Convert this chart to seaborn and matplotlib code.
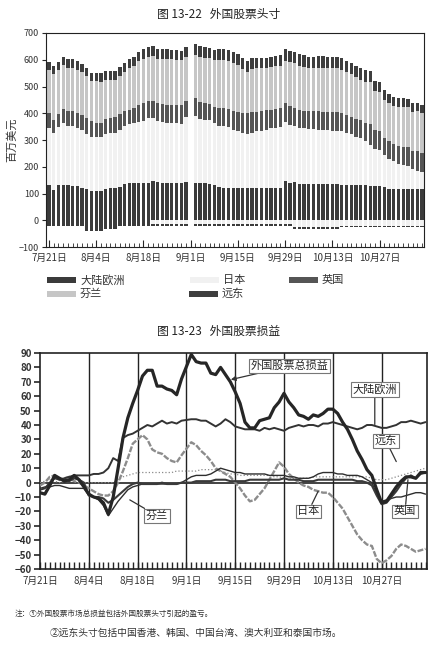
import numpy as np
import pandas as pd
import matplotlib
matplotlib.use("Agg")
import matplotlib.pyplot as plt
from matplotlib.patches import Rectangle
import seaborn as sns

# ---- data (business days 7/21 - 11/7, 9/1 holiday) ----
tick_labels = ["7月21日", "8月4日", "8月18日", "9月1日", "9月15日", "9月29日", "10月13日", "10月27日"]

# Fig 13-22: stacked positions (million USD), bottom -> top
eur = [130, 112, 130, 130, 130, 128, 128, 122, 115, 110,
       110, 110, 115, 120, 120, 125, 135, 138, 140, 140,
       140, 140, 145, 143, 140, 140, 140, 140, 140, 142,
       None, 140, 140, 138, 135, 133, 124, 122, 122, 122,
       120, 120, 120, 120, 120, 120, 120, 120, 120, 120,
       145, 138, 142, 137, 135, 135, 135, 137, 136, 134,
       134, 134, 133, 133, 133, 132, 130, 130, 128, 128,
       127, 125, 117, 118, 118, 118, 118, 118, 118, 118]
jpn = [215, 214, 217, 233, 221, 223, 217, 216, 207, 203,
       200, 200, 207, 205, 206, 213, 216, 222, 223, 229,
       232, 242, 237, 228, 228, 225, 225, 222, 220, 243,
       None, 248, 240, 237, 240, 230, 227, 229, 225, 216,
       215, 206, 202, 208, 212, 215, 218, 225, 225, 227,
       224, 218, 209, 208, 210, 205, 205, 201, 202, 204,
       201, 201, 199, 193, 189, 181, 176, 165, 155, 140,
       135, 120, 111, 102, 94, 89, 85, 72, 67, 62]
uk = [55, 50, 52, 52, 58, 56, 55, 57, 60, 57,
      53, 55, 58, 57, 59, 61, 56, 53, 56, 60,
      66, 62, 64, 67, 66, 67, 67, 70, 72, 59,
      None, 68, 63, 65, 58, 62, 69, 67, 68, 72,
      68, 74, 78, 75, 73, 73, 74, 69, 71, 71,
      68, 71, 69, 69, 63, 68, 68, 70, 68, 68,
      70, 70, 68, 67, 64, 67, 68, 70, 75, 70,
      70, 62, 70, 65, 66, 68, 69, 69, 74, 72]
fin = [160, 169, 161, 165, 162, 164, 163, 158, 157, 149,
       156, 152, 146, 144, 141, 141, 147, 158, 159, 165,
       165, 168, 167, 166, 170, 172, 169, 168, 166, 166,
       None, 162, 169, 168, 172, 173, 180, 182, 181, 178,
       177, 165, 155, 162, 163, 160, 156, 158, 159, 160,
       159, 163, 167, 164, 166, 162, 162, 163, 165, 164,
       165, 165, 163, 160, 160, 156, 152, 153, 158, 144,
       148, 143, 139, 143, 147, 150, 151, 146, 149, 148]
fe = [30, 30, 30, 32, 32, 32, 32, 32, 32, 33,
      33, 33, 32, 32, 32, 32, 32, 32, 34, 34,
      36, 37, 37, 36, 36, 36, 36, 36, 36, 36,
      None, 40, 40, 40, 40, 40, 40, 40, 40, 40,
      40, 40, 40, 40, 40, 40, 40, 40, 40, 40,
      44, 43, 43, 42, 42, 42, 42, 42, 42, 42,
      42, 42, 42, 42, 42, 42, 42, 42, 42, 38,
      38, 38, 35, 34, 32, 32, 32, 32, 32, 32]
# short positions stacked below zero
short_near = [0] * 22 + [-15] * 8 + [None] + [-15] * 21 + [-25] * 10 + [-20] * 18
short_far = [-22] * 8 + [-42] * 4 + [-33] * 3 + [-22] * 7 + [-7] * 8 + [None] + [-7] * 49

# Fig 13-23: profit / loss lines
pl_total = [-7, -8, -2, 5, 3, 1, 2, 5, 2, -3,
            -8, -10, -11, -14, -22, -10, 10, 31, 45, 55,
            64, 74, 78, 78, 67, 67, 65, 64, 61, 72,
            None, 89, 84, 83, 83, 76, 75, 80, 75, 70,
            63, 55, 42, 38, 38, 43, 44, 45, 52, 56,
            62, 56, 52, 47, 46, 44, 47, 46, 48, 51,
            51, 48, 42, 37, 30, 22, 16, 9, 5, -5,
            -14, -13, -8, -3, 1, 4, 4, 3, 7, 7]
pl_eur = [-5, -4, 0, 3, 2, 3, 4, 5, 5, 5,
          5, 6, 6, 7, 10, 17, 15, 31, 33, 34,
          36, 38, 40, 39, 41, 43, 41, 42, 41, 43,
          None, 44, 44, 43, 43, 41, 39, 41, 44, 42,
          39, 38, 37, 37, 37, 36, 38, 37, 38, 37,
          36, 38, 39, 40, 39, 40, 40, 39, 41, 41,
          42, 41, 40, 39, 38, 37, 38, 40, 40, 39,
          38, 38, 39, 40, 42, 42, 43, 42, 41, 42]
pl_jpn = [-2, 0, 4, 5, 2, 3, 4, 1, 0, -2,
          -4, -6, -8, -9, -9, -6, 0, 8, 17, 27,
          30, 33, 30, 23, 21, 20, 17, 15, 14, 19,
          None, 28, 26, 22, 19, 15, 10, 8, 6, 4,
          0, -4, -9, -13, -12, -8, -4, 2, 8, 14,
          11, 6, 3, 0, -2, -3, -5, -6, -7, -7,
          -10, -14, -18, -24, -30, -36, -40, -43, -44, -53,
          -56, -54, -51, -46, -43, -44, -46, -48, -47, -46]
pl_fe = [0, 1, 2, 1, 0, 1, 2, 1, 0, 0,
         0, 0, 0, 0, 0, 0, 2, 4, 5, 6,
         7, 7, 7, 7, 7, 7, 7, 7, 8, 8,
         None, 8, 8, 9, 9, 9, 9, 8, 7, 6,
         6, 5, 5, 5, 5, 5, 5, 5, 4, 4,
         3, 3, 3, 3, 3, 3, 4, 4, 4, 4,
         4, 4, 4, 4, 4, 4, 4, 4, 3, 2,
         2, 2, 3, 4, 5, 6, 7, 8, 9, 10]
pl_fin = [-4, -3, -3, -2, -2, -3, -4, -4, -4, -4,
          -9, -10, -12, -16, -23, -18, -13, -9, -5, -3,
          -2, -1, -1, -1, -1, -1, -1, -1, -1, 0,
          None, 4, 5, 5, 5, 6, 8, 10, 9, 8,
          7, 7, 6, 6, 6, 6, 6, 5, 5, 5,
          5, 4, 4, 3, 3, 3, 4, 6, 7, 7,
          7, 6, 6, 5, 5, 5, 4, 2, 0, -8,
          -13, -12, -11, -10, -10, -9, -8, -7, -7, -8]
pl_uk = [-7, -8, -2, 4, 3, 2, 1, 3, 2, 0,
         -9, -10, -10, -11, -14, -12, -9, -6, -3, -1,
         0, -1, -1, -1, -1, 0, -1, -1, -1, 0,
         None, 0, 1, 1, 1, 1, 2, 2, 2, 1,
         1, 1, 1, 2, 2, 2, 2, 2, 2, 2,
         3, 2, 2, 2, 1, 1, 1, 2, 2, 2,
         2, 2, 2, 2, 2, 1, 1, 0, -2, -9,
         -15, -14, -10, -6, -1, 3, 5, 3, 6, 7]

sns.set_theme(style="white")
plt.rcParams["font.family"] = ["Noto Sans CJK SC", "DejaVu Sans"]
plt.rcParams["axes.unicode_minus"] = True

W, H = 438, 649
fig = plt.figure(figsize=(W / 100, H / 100), dpi=100)
fig.patch.set_facecolor("white")


def fx(px):
    return px / W


def fy(py):
    return 1 - py / H


# ---------------- top chart ----------------
fig.text(fx(219), fy(14), "图 13-22   外国股票头寸", ha="center", va="center", fontsize=8.5, color="#222")
ax1 = fig.add_axes([fx(46), fy(247), (424 - 46) / W, (247 - 33) / H])

x = np.arange(len(eur))
layers = [("大陆欧洲", eur, "#3b3b3b"), ("日本", jpn, "#f1f1f1"), ("英国", uk, "#555555"),
          ("芬兰", fin, "#c6c6c6"), ("远东", fe, "#3e3e3e")]
base = np.zeros(len(x))
for name, vals, col in layers:
    v = np.array(vals, dtype=float)
    ax1.bar(x, v, bottom=base, width=0.7, color=col, linewidth=0)
    base = base + np.nan_to_num(v)

neg = np.zeros(len(x))
for vals, col in [(short_near, "#f1f1f1"), (short_far, "#3b3b3b")]:
    v = np.array(vals, dtype=float)
    ax1.bar(x, v, bottom=neg, width=0.7, color=col, linewidth=0)
    neg = neg + np.nan_to_num(v)

ax1.set_xlim(-0.64, 79.4)
ax1.set_ylim(-100, 700)
ax1.set_yticks(range(-100, 701, 100))
ax1.set_xticks(np.arange(0, 80, 10))
ax1.set_xticks(np.arange(0, 80), minor=True)
ax1.set_xticklabels(tick_labels, fontsize=7, color="#333")
ax1.tick_params(axis="y", labelsize=6.5, labelcolor="#333", left=True, direction="out", length=3, width=0.8, pad=2)
ax1.tick_params(axis="x", which="major", bottom=True, direction="in", length=5, width=0.8, pad=4)
ax1.tick_params(axis="x", which="minor", bottom=True, direction="in", length=3, width=0.6)
ax1.set_ylabel("百万美元", fontsize=8, color="#333", labelpad=1)
for s in ax1.spines.values():
    s.set_color("#222")
    s.set_linewidth(0.8)

# legend drawn by hand to match the book layout
legend_items = [("大陆欧洲", "#3b3b3b", 47, 280), ("日本", "#f1f1f1", 190, 280), ("英国", "#555555", 289, 280),
                ("芬兰", "#c6c6c6", 47, 294), ("远东", "#3e3e3e", 189, 294)]
for name, col, px, py in legend_items:
    fig.add_artist(Rectangle((fx(px), fy(py + 3)), 29 / W, 6 / H, transform=fig.transFigure,
                             facecolor=col, edgecolor="none"))
    fig.text(fx(px + 33), fy(py), name, ha="left", va="center", fontsize=8, color="#333")

# ---------------- bottom chart ----------------
fig.text(fx(219), fy(331), "图 13-23   外国股票损益", ha="center", va="center", fontsize=8.5, color="#222")
ax2 = fig.add_axes([fx(40), fy(569), (427 - 40) / W, (569 - 353) / H])

df = pd.DataFrame({"day": x, "外国股票总损益": pl_total, "大陆欧洲": pl_eur, "日本": pl_jpn,
                   "远东": pl_fe, "芬兰": pl_fin, "英国": pl_uk})

for p in range(10, 80, 10):
    ax2.axvline(p, color="#222", lw=1.0, zorder=1)
ax2.axhline(0, color="#222", lw=1.2, zorder=1)

line_styles = [("远东", "#8a8a8a", 0.9, ":"), ("日本", "#8c8c8c", 1.7, (0, (2.5, 0.7))),
               ("芬兰", "#2e2e2e", 1.0, "-"), ("大陆欧洲", "#333333", 1.4, "-"),
               ("英国", "#3a3a3a", 1.5, "-"), ("外国股票总损益", "#262626", 2.3, "-")]
for name, col, lw, ls in line_styles:
    d = df[["day", name]].dropna()
    sns.lineplot(data=d, x="day", y=name, ax=ax2, color=col, lw=lw, linestyle=ls, errorbar=None, zorder=3)

ax2.set_xlim(0, 79.3)
ax2.set_ylim(-60, 90)
ax2.set_yticks(range(-60, 91, 10))
ax2.set_xticks(np.arange(0, 80, 10))
ax2.set_xticks(np.arange(0, 80), minor=True)
ax2.set_xticklabels(tick_labels, fontsize=7, color="#333")
ax2.set_yticklabels([f"{v:d}".replace("-", "−") for v in range(-60, 91, 10)], fontsize=7, fontweight="bold", color="#333")
ax2.tick_params(axis="y", left=True, direction="out", length=4, width=1.2, pad=2)
ax2.tick_params(axis="x", which="major", bottom=True, direction="in", length=5, width=1.0, pad=5)
ax2.tick_params(axis="x", which="minor", bottom=True, direction="in", length=5, width=1.0)
ax2.set_xlabel("")
ax2.set_ylabel("")
for s in ax2.spines.values():
    s.set_color("#222")
    s.set_linewidth(1.2)

box = dict(boxstyle="square,pad=0.15", facecolor="white", edgecolor="#777", lw=0.8)
ax2.annotate("外国股票总损益", xy=(39.1, 71.5), xytext=(51.2, 81), fontsize=8, ha="center", va="center",
             bbox=box, arrowprops=dict(arrowstyle="-|>", color="#333", lw=0.9, shrinkA=0, shrinkB=0,
                                       mutation_scale=7), zorder=5)
for label, tip, txt in [("大陆欧洲", (68.6, 40.3), (68.6, 64.6)), ("远东", (73.0, 14.6), (70.9, 29)),
                        ("芬兰", (18.4, -12), (24.0, -23)), ("日本", (57.0, -6), (55.0, -20)),
                        ("英国", (75.4, 2), (74.8, -20))]:
    ax2.annotate(label, xy=tip, xytext=txt, fontsize=8, ha="center", va="center", bbox=box,
                 arrowprops=dict(arrowstyle="-", color="#333", lw=0.9, shrinkA=0, shrinkB=0), zorder=5)

# notes
fig.text(fx(15), fy(614), "注：①外国股票市场总损益包括外国股票头寸引起的盈亏。", ha="left", va="center",
         fontsize=5.5, color="#333")
fig.text(fx(50), fy(633), "②远东头寸包括中国香港、韩国、中国台湾、澳大利亚和泰国市场。", ha="left", va="center",
         fontsize=7, color="#333")

fig.savefig("out.png", dpi=100)
